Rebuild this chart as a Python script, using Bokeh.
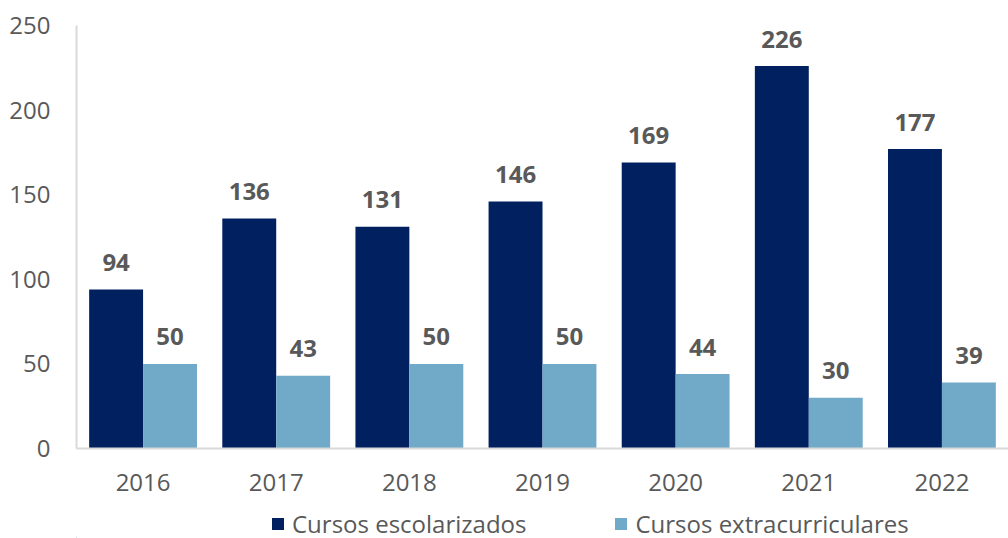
from bokeh.plotting import figure
from bokeh.layouts import column
from bokeh.models import ColumnDataSource, Range1d, FactorRange, Legend, LegendItem
from bokeh.transform import dodge
from bokeh.core.properties import value
from bokeh.embed import file_html
from bokeh.resources import INLINE

years = ["2016", "2017", "2018", "2019", "2020", "2021", "2022"]
escolarizados = [94, 136, 131, 146, 169, 226, 177]
extracurriculares = [50, 43, 50, 50, 44, 30, 39]
series_names = ["Cursos escolarizados", "Cursos extracurriculares"]
y_ticks = [0, 50, 100, 150, 200, 250]

DARK = "#002060"
LIGHT = "#71A9C8"
TXT = "#595959"
FONT = "Open Sans"

src = ColumnDataSource(dict(
    x=years,
    a=escolarizados,
    b=extracurriculares,
    a_lbl=[str(v) for v in escolarizados],
    b_lbl=[str(v) for v in extracurriculares],
))

p = figure(width=1008, height=500, x_range=FactorRange(*years, range_padding=0),
           y_range=Range1d(0, 250), output_backend="svg", toolbar_location=None,
           min_border_left=76, min_border_right=0, min_border_top=25, min_border_bottom=52)
p.outline_line_color = None
p.grid.visible = False

bw = 0.405
p.vbar(x=dodge("x", -bw / 2, range=p.x_range), top="a", width=bw, source=src,
       fill_color=DARK, line_color=None)
p.vbar(x=dodge("x", bw / 2, range=p.x_range), top="b", width=bw, source=src,
       fill_color=LIGHT, line_color=None)

for col, lbl, off in (("a", "a_lbl", -bw / 2), ("b", "b_lbl", bw / 2)):
    p.text(x=dodge("x", off, range=p.x_range), y=col, text=lbl, source=src,
           text_align="center", text_baseline="alphabetic", y_offset=-27,
           text_font=value(FONT), text_font_style="bold", text_font_size="24px",
           text_color=TXT)

p.yaxis.ticker = y_ticks
for ax in (p.xaxis, p.yaxis):
    ax.axis_line_color = "#d9d9d9"
    ax.axis_line_width = 2
    ax.major_tick_line_color = None
    ax.minor_tick_line_color = None
    ax.major_label_text_font = FONT
    ax.major_label_text_font_size = "24px"
    ax.major_label_text_color = TXT
p.xaxis.major_label_standoff = 19
p.yaxis.major_label_standoff = 20

# legend strip (its frame is aligned with the main frame, which starts at x=76)
lg = figure(width=1008, height=38, x_range=Range1d(0, 1008), y_range=Range1d(0, 38),
            output_backend="svg", toolbar_location=None, min_border=0)
lg.outline_line_color = None
lg.axis.visible = False
lg.grid.visible = False
d1 = lg.vbar(x=[-100], top=[1], width=1, fill_color=DARK, line_color=None)
d2 = lg.vbar(x=[-100], top=[1], width=1, fill_color=LIGHT, line_color=None)
legend = Legend(items=[LegendItem(label=series_names[0], renderers=[d1]),
                       LegendItem(label=series_names[1], renderers=[d2])],
                location=(194, -2), orientation="horizontal",
                padding=0, margin=0, spacing=87, border_line_color=None,
                background_fill_alpha=0, glyph_width=15, glyph_height=15,
                label_standoff=7, label_text_font=FONT, label_text_font_size="24px",
                label_text_color=TXT)
lg.add_layout(legend, "center")

open("out.html", "w").write(file_html(column(p, lg, spacing=0), INLINE))
